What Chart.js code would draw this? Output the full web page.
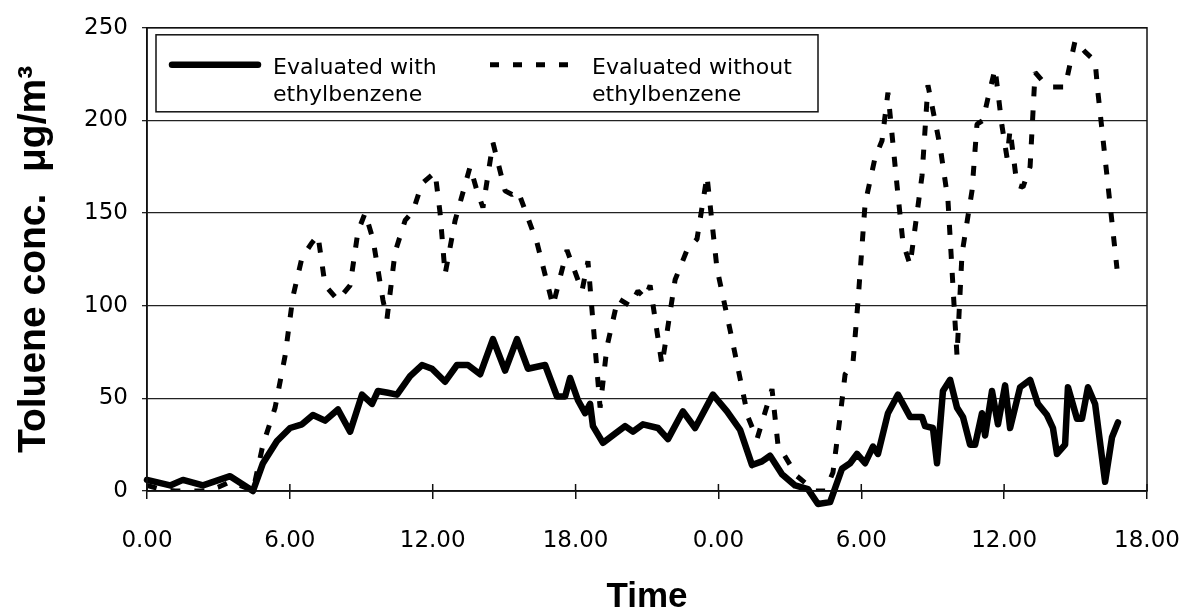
<!DOCTYPE html>
<html>
<head>
<meta charset="utf-8">
<script src="https://cdn.jsdelivr.net/npm/chart.js@4.4.0/dist/chart.umd.min.js"></script>
<style>
    body { margin: 0; background: #fff; }
</style>
</head>
<body>
<canvas id="tolueneChart" width="1188" height="612"></canvas>

<script>
    // time in hours from the first midnight (0 .. 42 h)
    const timeLabels = ['0.00', '6.00', '12.00', '18.00', '0.00', '6.00', '12.00', '18.00'];

    // Evaluated with ethylbenzene (solid)
    const withTimes = [0.00, 0.97, 1.51, 2.35, 3.49, 4.45, 4.87, 5.46, 6.01, 6.51, 6.97, 7.48, 8.02, 8.53, 9.03, 9.45,
        9.70, 10.12, 10.50, 11.05, 11.55, 11.97, 12.52, 13.02, 13.48, 13.99, 14.53, 15.04, 15.54, 16.00, 16.72, 17.22,
        17.56, 17.77, 18.10, 18.40, 18.61, 18.73, 19.15, 19.66, 20.08, 20.41, 20.83, 21.46, 21.88, 22.51, 23.02, 23.77,
        24.36, 24.91, 25.41, 25.83, 26.17, 26.67, 27.22, 27.76, 28.18, 28.69, 29.19, 29.53, 29.82, 30.16, 30.49, 30.70,
        31.12, 31.54, 32.05, 32.55, 32.68, 33.01, 33.18, 33.43, 33.73, 34.02, 34.27, 34.57, 34.78, 35.07, 35.20, 35.49,
        35.74, 36.04, 36.25, 36.67, 37.09, 37.42, 37.80, 38.05, 38.22, 38.56, 38.68, 39.06, 39.27, 39.52, 39.82, 40.24,
        40.53, 40.78];
    const withValues = [6, 3, 6, 3, 8, 0, 15, 27, 34, 36, 41, 38, 44, 32, 52, 47,
        54, 53, 52, 62, 68, 66, 59, 68, 68, 63, 82, 65, 82, 66, 68, 51,
        51, 61, 49, 42, 47, 35, 26, 31, 35, 32, 36, 34, 28, 43, 34, 52,
        43, 33, 14, 16, 19, 9, 3, 1, -7, -6, 12, 15, 20, 15, 24, 20,
        42, 52, 40, 40, 35, 34, 15, 54, 60, 45, 40, 25, 25, 42, 30, 54,
        36, 57, 34, 56, 60, 47, 41, 34, 20, 25, 56, 39, 39, 56, 47, 5,
        29, 37];

    // Evaluated without ethylbenzene (dashed)
    const withoutTimes = [0.00, 0.55, 1.18, 2.44, 2.98, 3.49, 4.12, 4.45, 4.87, 5.38, 5.80, 6.13, 6.51, 6.93, 7.18, 7.48,
        8.02, 8.53, 8.86, 9.16, 9.49, 9.91, 10.08, 10.42, 10.84, 11.17, 11.55, 12.10, 12.31, 12.52, 12.94, 13.57,
        13.86, 14.11, 14.53, 15.04, 15.33, 15.58, 16.38, 17.05, 17.64, 18.27, 18.52, 19.03, 19.32, 19.78, 20.29, 20.62,
        20.92, 21.13, 21.63, 22.18, 22.68, 23.10, 23.52, 23.94, 24.57, 25.24, 25.62, 26.25, 26.50, 27.30, 28.06, 28.48,
        28.81, 29.11, 29.32, 29.65, 29.86, 30.16, 30.58, 30.87, 31.12, 31.50, 31.75, 32.05, 32.55, 32.80, 33.31, 33.64,
        34.02, 34.23, 34.65, 34.86, 35.11, 35.32, 35.62, 35.91, 36.12, 36.25, 36.54, 36.79, 37.09, 37.30, 37.63, 38.05,
        38.56, 38.98, 39.40, 39.82, 39.94, 40.32, 40.74];
    const withoutValues = [3, 1, 0, 0, 2, 5, 2, 0, 25, 45, 73, 105, 126, 134, 138, 111,
        103, 111, 140, 150, 136, 103, 93, 129, 146, 151, 166, 172, 150, 117, 146, 175,
        162, 153, 188, 162, 160, 162, 134, 100, 130, 108, 124, 45, 78, 104, 100, 108,
        104, 111, 68, 114, 130, 136, 170, 120, 82, 40, 28, 55, 25, 8, 0, 0,
        10, 40, 63, 69, 102, 155, 180, 189, 215, 165, 134, 122, 170, 219, 186, 157,
        73, 128, 162, 198, 200, 212, 228, 197, 180, 195, 165, 164, 175, 226, 221, 218,
        218, 243, 237, 232, 215, 170, 120];

    const seriesNames = [['Evaluated with', 'ethylbenzene'], ['Evaluated without', 'ethylbenzene']];

    const toPoints = (times, values) => times.map((t, i) => ({ x: t, y: values[i] }));

    // plot frame, inner tick stubs and the boxed legend
    const frameAndLegend = {
        id: 'frameAndLegend',
        afterDatasetsDraw(chart) {
            const { ctx, chartArea: a } = chart;
            const xs = chart.scales.x;
            ctx.save();
            ctx.strokeStyle = '#111';
            ctx.lineWidth = 1.5;
            ctx.strokeRect(a.left, a.top, a.right - a.left, a.bottom - a.top);

            xs.ticks.forEach(t => {
                const px = xs.getPixelForValue(t.value);
                ctx.beginPath();
                ctx.moveTo(px, a.bottom);
                ctx.lineTo(px, a.bottom - 7);
                ctx.stroke();
            });

            // legend
            const bx = a.left + 9, by = a.top + 7;
            ctx.fillStyle = '#fff';
            ctx.fillRect(bx, by, 662, 77);
            ctx.lineWidth = 1.5;
            ctx.strokeRect(bx, by, 662, 77);

            const items = [{ x0: 25, x1: 111, tx: 126 }, { x0: 343, x1: 425, tx: 445 }];
            chart.data.datasets.forEach((ds, i) => {
                const it = items[i];
                ctx.beginPath();
                ctx.strokeStyle = ds.borderColor;
                ctx.lineWidth = ds.borderWidth;
                ctx.lineCap = i === 0 ? 'round' : 'butt';
                ctx.setLineDash(i === 0 ? [] : [9, 14]);
                ctx.moveTo(a.left + it.x0, a.top + 37);
                ctx.lineTo(a.left + it.x1, a.top + 37);
                ctx.stroke();
                ctx.setLineDash([]);

                ctx.fillStyle = '#000';
                ctx.font = '22px "DejaVu Sans"';
                ctx.textAlign = 'left';
                ctx.textBaseline = 'alphabetic';
                seriesNames[i].forEach((line, j) => {
                    ctx.fillText(line, a.left + it.tx, a.top + 46 + j * 27);
                });
            });
            ctx.restore();
        }
    };

    new Chart(document.getElementById('tolueneChart'), {
        type: 'line',
        data: {
            datasets: [{
                label: seriesNames[0].join(' '),
                data: toPoints(withTimes, withValues),
                borderColor: '#000',
                borderWidth: 6.5,
                borderJoinStyle: 'round',
                borderCapStyle: 'round',
                pointRadius: 0,
                tension: 0,
                clip: false
            }, {
                label: seriesNames[1].join(' '),
                data: toPoints(withoutTimes, withoutValues),
                borderColor: '#000',
                borderWidth: 5,
                borderDash: [10, 14],
                borderCapStyle: 'butt',
                borderJoinStyle: 'bevel',
                pointRadius: 0,
                tension: 0
            }]
        },
        options: {
            responsive: false,
            animation: false,
            layout: { padding: { top: 24, right: 41, left: 0, bottom: 0 } },
            plugins: {
                legend: { display: false },
                tooltip: { enabled: false }
            },
            scales: {
                x: {
                    type: 'linear',
                    min: 0,
                    max: 42,
                    afterFit: s => {
                        s.height = 121;
                        s.paddingLeft = 0;
                        s.paddingRight = 0;
                    },
                    ticks: {
                        stepSize: 6,
                        padding: 28,
                        color: '#000',
                        font: { family: 'DejaVu Sans', size: 23 },
                        callback: v => timeLabels[Math.round(v / 6)]
                    },
                    grid: { drawOnChartArea: false, tickLength: 8, color: '#111', lineWidth: 1.5 },
                    border: { display: true, color: '#111', width: 1.5 },
                    title: {
                        display: true,
                        text: 'Time',
                        color: '#000',
                        padding: { top: 0, bottom: 0 },
                        font: { family: 'Liberation Sans', weight: 'bold', size: 35, lineHeight: 0.85 }
                    }
                },
                y: {
                    min: 0,
                    max: 250,
                    afterFit: s => { s.width = 147; },
                    ticks: {
                        stepSize: 50,
                        padding: 14,
                        color: '#000',
                        font: { family: 'DejaVu Sans', size: 23 }
                    },
                    grid: { color: '#222', lineWidth: 1.3, tickLength: 5 },
                    border: { display: true, color: '#111', width: 1.5 },
                    title: {
                        display: true,
                        text: 'Toluene conc.  μg/m³',
                        color: '#000',
                        padding: { top: 15, bottom: 0 },
                        font: { family: 'Liberation Sans', weight: 'bold', size: 39, lineHeight: 1 }
                    }
                }
            }
        },
        plugins: [frameAndLegend]
    });
</script>
</body>
</html>
